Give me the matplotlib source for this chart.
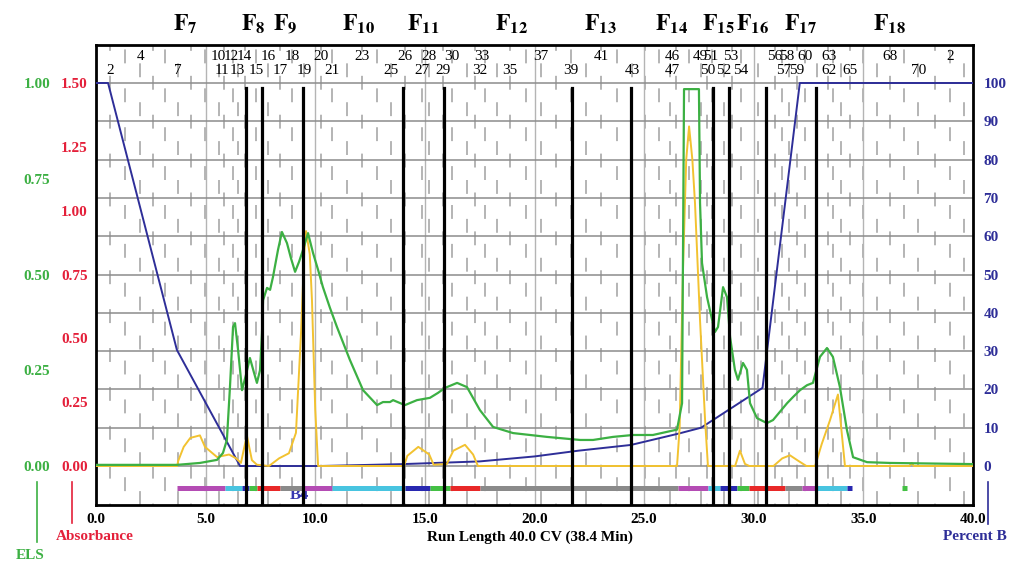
import numpy as np
import matplotlib.pyplot as plt
from matplotlib.lines import Line2D

plt.rcParams['font.family'] = 'Liberation Serif'
plt.rcParams['font.weight'] = 'bold'
plt.rcParams['mathtext.fontset'] = 'stix'
plt.rcParams['lines.scale_dashes'] = False

########################################
# data

# gradient, percent B
grad_cv = [0.0, 0.55, 3.69, 6.57, 10.2, 14.0, 17.5, 20.0, 22.0, 24.4, 26.6, 27.6, 30.4, 32.1, 40.0]
grad_pct = [100, 100, 30.3, 0, 0, 0.5, 1.2, 2.5, 4.0, 5.5, 8.5, 10.0, 20.4, 100, 100]

# absorbance (AU)
abs_cv = [0.0, 3.7, 3.75, 4.0, 4.3, 4.74, 4.97, 5.52, 6.07, 6.39, 6.61, 6.88, 7.11, 7.34,
          7.89, 8.35, 8.8, 9.12, 9.35, 9.5, 9.58, 9.75, 9.85, 10.0, 10.13,
          14.05, 14.2, 14.7, 15.2, 15.4, 16.0, 16.3, 16.83, 17.2, 17.42,
          26.5, 26.62, 26.77, 26.92, 27.05, 27.2, 27.32, 27.55, 27.78, 27.91,
          29.15, 29.37, 29.6, 29.8, 30.9, 31.3, 31.65, 32.0, 32.4,
          32.8, 33.1, 33.48, 33.84, 34.16, 37.1, 37.2, 37.3, 40.0]
abs_au = [0.0, 0.0, 0.02, 0.075, 0.11, 0.12, 0.075, 0.035, 0.045, 0.03, 0.012, 0.12, 0.023, 0.005,
          0.0, 0.03, 0.05, 0.13, 0.52, 0.84, 0.92, 0.83, 0.65, 0.22, 0.0,
          0.0, 0.04, 0.075, 0.045, 0.005, 0.008, 0.06, 0.083, 0.045, 0.0,
          0.0, 0.15, 0.76, 1.2, 1.33, 1.2, 1.03, 0.57, 0.18, 0.0,
          0.0, 0.06, 0.008, 0.0, 0.0, 0.03, 0.042, 0.022, 0.0,
          0.0, 0.086, 0.18, 0.28, 0.0, 0.0, 0.012, 0.0, 0.0]

# ELS signal
els_cv = [0.0, 1.69, 3.69, 4.74, 5.52, 5.79, 5.97, 6.11, 6.25, 6.34, 6.48, 6.66, 6.84, 7.02,
          7.2, 7.34, 7.48, 7.57, 7.62, 7.8, 7.94, 8.07, 8.3, 8.48, 8.71, 8.89, 9.08, 9.26,
          9.44, 9.67, 9.9, 10.13, 10.35, 10.67, 10.99, 11.58, 12.18, 12.82, 13.09, 13.41,
          13.55, 14.09, 14.64, 15.23, 15.6, 15.92, 16.47, 16.92, 17.51, 18.11, 19.02, 20.57,
          22.08, 22.67, 23.58, 24.49, 25.4, 26.5, 26.73, 26.82, 27.5, 27.55, 27.64, 27.87,
          28.0, 28.23, 28.37, 28.6, 28.78, 28.92, 29.14, 29.28, 29.51, 29.69, 29.83, 30.15,
          30.6, 30.88, 31.52, 31.79, 32.11, 32.43, 32.7, 33.02, 33.34, 33.61, 33.93, 34.25,
          34.53, 35.17, 36.21, 40.0]
els_val = [0.003, 0.003, 0.003, 0.008, 0.016, 0.034, 0.068, 0.206, 0.363, 0.373, 0.303, 0.198, 0.238, 0.282,
           0.245, 0.217, 0.25, 0.347, 0.433, 0.465, 0.46, 0.493, 0.564, 0.611, 0.582, 0.543, 0.507, 0.533,
           0.564, 0.608, 0.556, 0.512, 0.467, 0.413, 0.363, 0.277, 0.198, 0.159, 0.167, 0.167,
           0.172, 0.159, 0.172, 0.178, 0.191, 0.204, 0.217, 0.206, 0.146, 0.102, 0.086, 0.076,
           0.068, 0.068, 0.076, 0.081, 0.081, 0.095, 0.164, 0.984, 0.984, 0.687, 0.53, 0.441,
           0.407, 0.35, 0.363, 0.467, 0.441, 0.337, 0.251, 0.225, 0.269, 0.251, 0.164, 0.125,
           0.112, 0.12, 0.164, 0.18, 0.198, 0.211, 0.217, 0.285, 0.308, 0.285, 0.206, 0.094,
           0.023, 0.01, 0.008, 0.005]

# fraction cuts (thick black lines) and pool names
cut_cv = [6.84, 7.57, 9.44, 14.0, 15.87, 21.71, 24.4, 28.14, 28.87, 30.56, 32.84]
pool_names = ['7', '8', '9', '10', '11', '12', '13', '14', '15', '16', '17', '18']
pool_cv = [4.06, 7.16, 8.62, 11.95, 14.91, 18.97, 22.99, 26.27, 28.37, 29.92, 32.11, 36.21]

# collected tubes
tube_cv = [0.0, 0.64, 1.3, 2.01, 2.6, 3.15, 3.74, 4.35, 4.95, 5.6, 5.85, 6.25, 6.48, 6.8,
           7.3, 7.85, 8.4, 8.94, 9.49, 10.26, 10.76, 11.45, 12.13, 12.8, 13.45, 14.09, 14.87,
           15.19, 15.83, 16.24, 16.9, 17.3, 17.75, 18.3, 18.88, 19.6, 20.3, 21.0, 21.67, 22.35,
           23.03, 23.75, 24.45, 25.05, 25.7, 26.2, 26.45, 27.05, 27.6, 27.85, 28.1, 28.65, 29.0,
           29.4, 30.2, 30.95, 31.3, 31.6, 31.95, 32.35, 32.9, 33.4, 33.6, 34.0, 34.4, 35.0, 35.6,
           36.2, 36.85, 37.5, 38.25, 38.95, 39.6]
top_labels = ['4', '10', '12', '14', '16', '18', '20', '23', '26', '28', '30', '33', '37', '41',
              '46', '49', '51', '53', '56', '58', '60', '63', '68', '2']
top_cv = [2.01, 5.6, 6.15, 6.75, 7.85, 8.94, 10.26, 12.13, 14.09, 15.19, 16.24, 17.6, 20.3, 23.03,
          26.3, 27.55, 28.05, 28.95, 30.95, 31.5, 32.35, 33.45, 36.2, 38.95]
bot_labels = ['2', '7', '11', '13', '15', '17', '19', '21', '25', '27', '29', '32', '35', '39',
              '43', '47', '50', '52', '54', '57', '59', '62', '65', '70']
bot_cv = [0.64, 3.74, 5.75, 6.45, 7.3, 8.4, 9.49, 10.76, 13.45, 14.87, 15.83, 17.5, 18.88, 21.67,
          24.45, 26.3, 27.9, 28.65, 29.4, 31.35, 31.95, 33.45, 34.4, 37.5]

# coloured pool bar
bar_start = [3.69, 5.88, 6.66, 6.98, 7.34, 8.39, 9.44, 10.76, 14.09, 15.23, 16.15, 17.51,
             26.54, 27.91, 28.46, 29.24, 29.78, 31.43, 32.2, 32.79, 34.25, 36.76]
bar_end = [5.88, 6.66, 6.98, 7.34, 8.39, 9.44, 10.76, 14.09, 15.23, 16.15, 17.51, 26.54,
           27.91, 28.46, 29.24, 29.78, 31.43, 32.2, 32.79, 34.25, 34.48, 36.99]
bar_col = ['m', 'c', 'b', 'g', 'r', 'k', 'm', 'c', 'b', 'g', 'r', 'k',
           'm', 'c', 'b', 'g', 'r', 'k', 'm', 'c', 'b', 'g']

########################################

cmap = {'m': '#b44cb4', 'c': '#48c4e0', 'b': '#2828b0', 'g': '#44c044', 'r': '#e82828', 'k': '#8a8a8a'}
navy = '#2e2e98'
green = '#3cb043'
red = '#e4203a'
yellow = '#f2c230'

ymin, ymax = -10.18, 109.92

fig = plt.figure(figsize=(10.14, 5.67), dpi=100)
ax = fig.add_axes([96 / 1014, 1 - 505 / 567, 877 / 1014, 460 / 567])
ax.set_xlim(0, 40)
ax.set_ylim(ymin, ymax)

# absorbance axis
ax_abs = ax.twinx()
ax_abs.set_ylim(ymin * 0.015, ymax * 0.015)
ax_abs.yaxis.tick_left()
ax_abs.set_yticks(np.arange(0, 1.51, 0.25))
ax_abs.set_yticklabels(['%.2f' % v for v in np.arange(0, 1.51, 0.25)])
ax_abs.tick_params(axis='y', length=0, pad=6, labelsize=11, labelcolor=red)
for s in ax_abs.spines.values():
    s.set_visible(False)

# ELS axis
ax_els = ax.twinx()
ax_els.set_ylim(ymin / 100, ymax / 100)
ax_els.yaxis.tick_left()
ax_els.set_yticks(np.arange(0, 1.01, 0.25))
ax_els.set_yticklabels(['%.2f' % v for v in np.arange(0, 1.01, 0.25)])
ax_els.tick_params(axis='y', length=0, pad=33, labelsize=11, labelcolor=green)
for s in ax_els.spines.values():
    s.set_visible(False)

# percent B axis on the right (after twinx, which moves it left)
ax.set_yticks(range(0, 101, 10))
ax.set_xticks(np.arange(0, 40.1, 5))
ax.set_xticklabels(['%.1f' % v for v in np.arange(0, 40.1, 5)])
ax.tick_params(axis='y', left=False, labelleft=False, right=False, labelright=True,
               pad=4, labelsize=11, labelcolor=navy)
ax.tick_params(axis='x', length=0, pad=6, labelsize=11)
ax.grid(axis='y', color='#8c8c8c', lw=1.1, zorder=0)
ax.grid(axis='x', color='#b4b4b4', lw=1.0, zorder=0)
for s in ax.spines.values():
    s.set_linewidth(2)

# tube boundaries
for i, x in enumerate(tube_cv):
    ax.axvline(x, color='#a8a8a8', lw=1.2, ls=(9 * (i % 3), (10, 18)), zorder=1)

# tube numbers
for lab, x in zip(top_labels, top_cv):
    ax.text(x, 106.8, lab, ha='center', va='center', fontsize=11, fontweight='normal')
for lab, x in zip(bot_labels, bot_cv):
    ax.text(x, 103.3, lab, ha='center', va='center', fontsize=11, fontweight='normal')

# pool bar
for x0, x1, c in zip(bar_start, bar_end, bar_col):
    ax.plot([x0, x1], [-5.7, -5.7], color=cmap[c], lw=3.6, solid_capstyle='butt', zorder=3)
ax.text(9.3, -7.6, 'B4', color='#3838b0', fontsize=12, ha='center', va='center', zorder=2)

# traces
ax.plot(grad_cv, grad_pct, color=navy, lw=1.4, zorder=4)
ax_abs.plot(abs_cv, abs_au, color=yellow, lw=1.4, zorder=5)
ax_els.plot(els_cv, els_val, color=green, lw=1.6, zorder=5)

# pool cuts
for x in cut_cv:
    ax_els.axvline(x, ymin=0, ymax=(98.7 - ymin) / (ymax - ymin), color='black', lw=2.3, zorder=6)

for n, x in zip(pool_names, pool_cv):
    ax.text(x, 1.045, r'$\mathrm{F}_{%s}$' % n, transform=ax.get_xaxis_transform(),
            ha='center', va='center', fontsize=17, fontweight='normal')

# axis captions
fig.text(0.5227, 0.053, 'Run Length 40.0 CV (38.4 Min)', ha='center', va='center', fontsize=11)
fig.text(0.0937, 0.053, 'Absorbance', ha='center', va='center', fontsize=11, color=red)
fig.text(0.0296, 0.021, 'ELS', ha='center', va='center', fontsize=11, color=green)
fig.text(0.9615, 0.053, 'Percent B', ha='center', va='center', fontsize=11, color=navy)
fig.add_artist(Line2D([0.0365, 0.0365], [0.150, 0.044], color=green, lw=1.2))
fig.add_artist(Line2D([0.071, 0.071], [0.150, 0.0776], color=red, lw=1.2))
fig.add_artist(Line2D([0.9744, 0.9744], [0.150, 0.0758], color=navy, lw=1.2))

fig.savefig('out.png', dpi=100)
